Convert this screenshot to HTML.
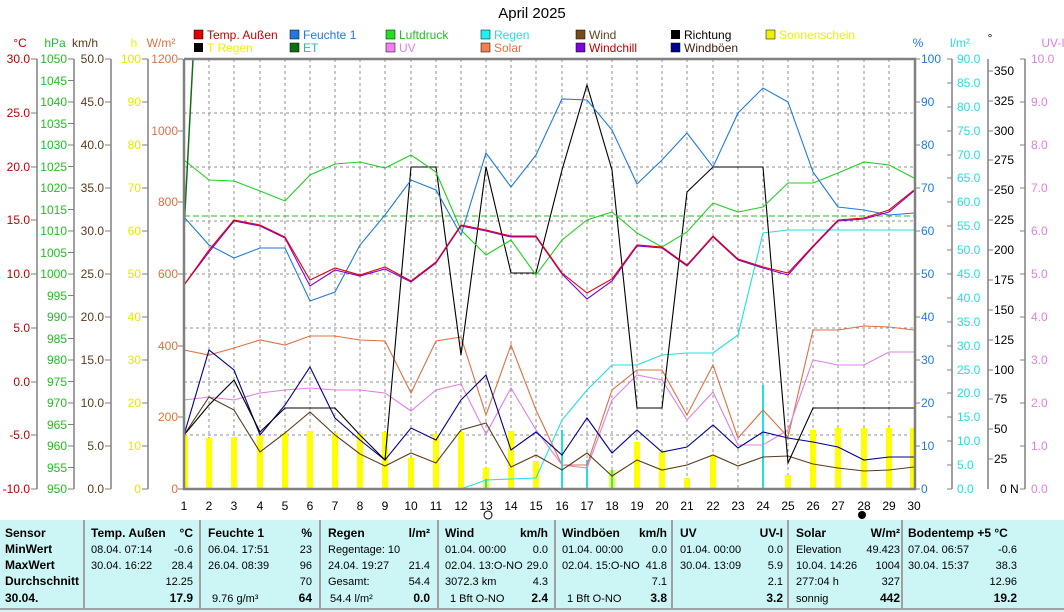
<!DOCTYPE html>
<html><head><meta charset="utf-8"><style>
html,body{margin:0;padding:0;background:#fff;}
svg{display:block;font-family:"Liberation Sans",sans-serif;}
</style></head><body>
<svg width="1064" height="612" viewBox="0 0 1064 612" xmlns="http://www.w3.org/2000/svg">
<rect width="1064" height="612" fill="#fff"/>
<text x="532" y="18" font-size="15" text-anchor="middle">April 2025</text>

<g font-size="12">
<rect x="194" y="30" width="9" height="9" fill="#e00000" stroke="#000" stroke-width="0.5"/><text x="207" y="39" fill="#c00000">Temp. Außen</text>
<rect x="290" y="30" width="9" height="9" fill="#1e7ae0" stroke="#000" stroke-width="0.5"/><text x="303" y="39" fill="#1e7ae0">Feuchte 1</text>
<rect x="386" y="30" width="9" height="9" fill="#20e020" stroke="#000" stroke-width="0.5"/><text x="399" y="39" fill="#20c020">Luftdruck</text>
<rect x="481" y="30" width="9" height="9" fill="#20f0f0" stroke="#000" stroke-width="0.5"/><text x="494" y="39" fill="#20e0e0">Regen</text>
<rect x="576" y="30" width="9" height="9" fill="#7a4a1a" stroke="#000" stroke-width="0.5"/><text x="589" y="39" fill="#6a4020">Wind</text>
<rect x="671" y="30" width="9" height="9" fill="#000"/><text x="684" y="39" fill="#000">Richtung</text>
<rect x="766" y="30" width="9" height="9" fill="#f0f000" stroke="#000" stroke-width="0.5"/><text x="779" y="39" fill="#f0f000">Sonnenschein</text>
<rect x="194" y="43" width="9" height="9" fill="#000"/><text x="207" y="52" fill="#f0f000">T Regen</text>
<rect x="290" y="43" width="9" height="9" fill="#107010" stroke="#000" stroke-width="0.5"/><text x="303" y="52" fill="#20c0a0">ET</text>
<rect x="386" y="43" width="9" height="9" fill="#f080f0" stroke="#000" stroke-width="0.5"/><text x="399" y="52" fill="#e080e0">UV</text>
<rect x="481" y="43" width="9" height="9" fill="#f08050" stroke="#000" stroke-width="0.5"/><text x="494" y="52" fill="#e07040">Solar</text>
<rect x="576" y="43" width="9" height="9" fill="#8000e0" stroke="#000" stroke-width="0.5"/><text x="589" y="52" fill="#c00000">Windchill</text>
<rect x="671" y="43" width="9" height="9" fill="#000090" stroke="#000" stroke-width="0.5"/><text x="684" y="52" fill="#402010">Windböen</text>
</g>

<g font-size="12">
<text x="20" y="47" fill="#c00000" text-anchor="middle">°C</text>
<text x="55" y="47" fill="#20c020" text-anchor="middle">hPa</text>
<text x="85" y="47" fill="#5a3a1a" text-anchor="middle">km/h</text>
<text x="134" y="47" fill="#f0f000" text-anchor="middle">h</text>
<text x="161" y="47" fill="#e07040" text-anchor="middle">W/m²</text>
<text x="918" y="47" fill="#1e7ae0" text-anchor="middle">%</text>
<text x="960" y="47" fill="#20e0e0" text-anchor="middle">l/m²</text>
<text x="990" y="42" fill="#000" text-anchor="middle">°</text>
<text x="1053" y="47" fill="#e080e0" text-anchor="middle">UV-I</text>
</g>

<g stroke="#808080" stroke-width="1.5">
<line x1="37" y1="59" x2="37" y2="489"/>
<line x1="74" y1="59" x2="74" y2="489"/>
<line x1="111" y1="59" x2="111" y2="489"/>
<line x1="148" y1="59" x2="148" y2="489"/>
<line x1="952" y1="59" x2="952" y2="489"/>
<line x1="988" y1="59" x2="988" y2="489"/>
<line x1="1025" y1="59" x2="1025" y2="489"/>
</g>

<g font-size="12" fill="#c00000" text-anchor="end">
<text x="30" y="63">30.0</text><text x="30" y="117">25.0</text><text x="30" y="171">20.0</text><text x="30" y="224">15.0</text><text x="30" y="278">10.0</text><text x="30" y="332">5.0</text><text x="30" y="386">0.0</text><text x="30" y="439">-5.0</text><text x="30" y="493">-10.0</text>
</g>
<g stroke="#808080"><path d="M31 59h6M31 113h6M31 167h6M31 220h6M31 274h6M31 328h6M31 382h6M31 435h6M31 489h6"/></g>
<g font-size="12" fill="#20c020" text-anchor="end">
<text x="67" y="63">1050</text><text x="67" y="85">1045</text><text x="67" y="106">1040</text><text x="67" y="128">1035</text><text x="67" y="149">1030</text><text x="67" y="171">1025</text><text x="67" y="192">1020</text><text x="67" y="214">1015</text><text x="67" y="235">1010</text><text x="67" y="257">1005</text><text x="67" y="278">1000</text><text x="67" y="300">995</text><text x="67" y="321">990</text><text x="67" y="343">985</text><text x="67" y="364">980</text><text x="67" y="386">975</text><text x="67" y="407">970</text><text x="67" y="429">965</text><text x="67" y="450">960</text><text x="67" y="472">955</text><text x="67" y="493">950</text>
</g>
<g stroke="#808080"><path d="M68 59h6M68 80.5h6M68 102h6M68 123.5h6M68 145h6M68 166.5h6M68 188h6M68 209.5h6M68 231h6M68 252.5h6M68 274h6M68 295.5h6M68 317h6M68 338.5h6M68 360h6M68 381.5h6M68 403h6M68 424.5h6M68 446h6M68 467.5h6M68 489h6"/></g>
<g font-size="12" fill="#5a3a1a" text-anchor="end">
<text x="104" y="63">50.0</text><text x="104" y="106">45.0</text><text x="104" y="149">40.0</text><text x="104" y="192">35.0</text><text x="104" y="235">30.0</text><text x="104" y="278">25.0</text><text x="104" y="321">20.0</text><text x="104" y="364">15.0</text><text x="104" y="407">10.0</text><text x="104" y="450">5.0</text><text x="104" y="493">0.0</text>
</g>
<g stroke="#808080"><path d="M105 59h6M105 102h6M105 145h6M105 188h6M105 231h6M105 274h6M105 317h6M105 360h6M105 403h6M105 446h6M105 489h6"/></g>
<g font-size="12" fill="#e8e800" text-anchor="end">
<text x="141" y="63">100</text><text x="141" y="106">90</text><text x="141" y="149">80</text><text x="141" y="192">70</text><text x="141" y="235">60</text><text x="141" y="278">50</text><text x="141" y="321">40</text><text x="141" y="364">30</text><text x="141" y="407">20</text><text x="141" y="450">10</text><text x="141" y="493">0</text>
</g>
<g stroke="#808080"><path d="M142 59h6M142 102h6M142 145h6M142 188h6M142 231h6M142 274h6M142 317h6M142 360h6M142 403h6M142 446h6M142 489h6"/></g>
<g font-size="12" fill="#e07040" text-anchor="end">
<text x="178" y="63">1200</text><text x="178" y="135">1000</text><text x="178" y="206">800</text><text x="178" y="278">600</text><text x="178" y="350">400</text><text x="178" y="421">200</text><text x="178" y="493">0</text>
</g>
<g stroke="#808080"><path d="M178 59h5M178 131h5M178 202h5M178 274h5M178 346h5M178 417h5M178 489h5"/></g>
<g font-size="12" fill="#1e7ae0">
<text x="921" y="63">100</text><text x="921" y="106">90</text><text x="921" y="149">80</text><text x="921" y="192">70</text><text x="921" y="235">60</text><text x="921" y="278">50</text><text x="921" y="321">40</text><text x="921" y="364">30</text><text x="921" y="407">20</text><text x="921" y="450">10</text><text x="921" y="493">0</text>
</g>
<g stroke="#808080"><path d="M915 59h5M915 102h5M915 145h5M915 188h5M915 231h5M915 274h5M915 317h5M915 360h5M915 403h5M915 446h5M915 489h5"/></g>
<g font-size="12" fill="#20e0e0">
<text x="957" y="63">90.0</text><text x="957" y="87">85.0</text><text x="957" y="111">80.0</text><text x="957" y="135">75.0</text><text x="957" y="159">70.0</text><text x="957" y="182">65.0</text><text x="957" y="206">60.0</text><text x="957" y="230">55.0</text><text x="957" y="254">50.0</text><text x="957" y="278">45.0</text><text x="957" y="302">40.0</text><text x="957" y="326">35.0</text><text x="957" y="350">30.0</text><text x="957" y="374">25.0</text><text x="957" y="397">20.0</text><text x="957" y="421">15.0</text><text x="957" y="445">10.0</text><text x="957" y="469">5.0</text><text x="957" y="493">0.0</text>
</g>
<g stroke="#808080"><path d="M947 59h5M947 83h5M947 107h5M947 131h5M947 155h5M947 178h5M947 202h5M947 226h5M947 250h5M947 274h5M947 298h5M947 322h5M947 346h5M947 370h5M947 393h5M947 417h5M947 441h5M947 465h5M947 489h5"/></g>
<g font-size="12" fill="#000">
<text x="994" y="75">350</text><text x="994" y="105">325</text><text x="994" y="135">300</text><text x="994" y="164">275</text><text x="994" y="194">250</text><text x="994" y="224">225</text><text x="994" y="254">200</text><text x="994" y="284">175</text><text x="994" y="314">150</text><text x="994" y="344">125</text><text x="994" y="374">100</text><text x="994" y="403">75</text><text x="994" y="433">50</text><text x="994" y="463">25</text><text x="1000" y="493">0 N</text>
</g>
<g stroke="#808080"><path d="M988 71h5M988 101h5M988 131h5M988 160h5M988 190h5M988 220h5M988 250h5M988 280h5M988 310h5M988 340h5M988 370h5M988 399h5M988 429h5M988 459h5"/></g>
<g font-size="12" fill="#e080e0">
<text x="1031" y="63">10.0</text><text x="1031" y="106">9.0</text><text x="1031" y="149">8.0</text><text x="1031" y="192">7.0</text><text x="1031" y="235">6.0</text><text x="1031" y="278">5.0</text><text x="1031" y="321">4.0</text><text x="1031" y="364">3.0</text><text x="1031" y="407">2.0</text><text x="1031" y="450">1.0</text><text x="1031" y="493">0.0</text>
</g>
<g stroke="#808080"><path d="M1020 59h5M1020 102h5M1020 145h5M1020 188h5M1020 231h5M1020 274h5M1020 317h5M1020 360h5M1020 403h5M1020 446h5M1020 489h5"/></g>

<g stroke="#909090" stroke-width="1" stroke-dasharray="3,3">
<path d="M184 113H914M184 167H914M184 221H914M184 274H914M184 328H914M184 382H914M184 435H914"/>
<path d="M209 59V489M234 59V489M260 59V489M285 59V489M310 59V489M335 59V489M360 59V489M385 59V489M411 59V489M436 59V489M461 59V489M486 59V489M511 59V489M536 59V489M562 59V489M587 59V489M612 59V489M637 59V489M662 59V489M687 59V489M713 59V489M738 59V489M763 59V489M788 59V489M813 59V489M838 59V489M864 59V489M889 59V489"/>
</g>

<g fill="#ffff00">
<rect x="183" y="436" width="5" height="53"/><rect x="206" y="438" width="6" height="51"/><rect x="231" y="437" width="6" height="52"/><rect x="257" y="435" width="6" height="54"/><rect x="282" y="433" width="6" height="56"/><rect x="307" y="431" width="6" height="58"/><rect x="332" y="433" width="6" height="56"/><rect x="357" y="433" width="6" height="56"/><rect x="382" y="432" width="6" height="57"/><rect x="408" y="458" width="6" height="31"/><rect x="433" y="434" width="6" height="55"/><rect x="458" y="432" width="6" height="57"/><rect x="483" y="468" width="6" height="21"/><rect x="508" y="431" width="6" height="58"/><rect x="533" y="461" width="6" height="28"/><rect x="609" y="470" width="6" height="19"/><rect x="634" y="442" width="6" height="47"/><rect x="659" y="452" width="6" height="37"/><rect x="684" y="478" width="6" height="11"/><rect x="710" y="455" width="6" height="34"/><rect x="785" y="475" width="6" height="14"/><rect x="810" y="430" width="6" height="59"/><rect x="835" y="428" width="6" height="61"/><rect x="861" y="428" width="6" height="61"/><rect x="886" y="428" width="6" height="61"/><rect x="910" y="428" width="5" height="61"/>
</g>
<g stroke="#20e0e0" stroke-width="2">
<path d="M486 489V479M562 489V430M587 489V460M763 489V385M612 489V470"/>
</g>

<g fill="none" stroke-width="1.1">
<polyline stroke="#e07040" points="184,350 209,355 234,348 260,340 285,345 310,336 335,336 360,340 385,341 411,393 436,341 461,337 486,415 511,345 536,410 562,465 587,465 612,390 637,370 662,370 687,415 713,365 738,438 763,410 788,437 813,330 838,330 864,326 889,327 914,330"/>
<polyline stroke="#e080e0" points="184,400 209,397 234,400 260,393 285,390 310,388 335,390 360,390 385,393 411,411 436,390 461,384 486,434 511,388 536,430 562,465 587,468 612,400 637,375 662,380 687,420 713,392 738,445 763,445 788,430 813,360 838,365 864,365 889,352 914,352"/>
<polyline stroke="#20e0e0" points="184,489 461,489 486,480 536,478 562,420 587,390 612,365 637,365 662,355 687,353 713,353 738,335 763,233 788,230 914,230"/>
<polyline stroke="#000090" points="184,435 209,350 234,370 260,435 285,405 310,367 335,418 360,440 385,460 411,428 436,440 461,400 486,375 511,450 536,432 562,455 587,418 612,453 637,430 662,452 687,447 713,425 738,448 763,432 788,438 813,442 838,447 864,460 889,457 914,457"/>
<polyline stroke="#5a3a1a" points="184,435 209,397 234,410 260,452 285,433 310,412 335,435 360,454 385,466 411,453 436,463 461,430 486,423 511,467 536,455 562,470 587,453 612,476 637,460 662,470 687,465 713,455 738,466 763,457 788,456 813,464 838,468 864,471 889,470 914,467"/>
<polyline stroke="#000" points="184,435 209,405 234,380 260,432 285,408 335,408 360,435 385,460 411,167 436,167 461,355 486,167 511,273 536,273 562,170 587,85 612,170 637,408 662,408 687,192 713,167 763,167 788,463 813,408 914,408"/>
<polyline stroke="#20d020" points="184,160 209,180 234,181 260,191 285,201 310,175 335,164 360,162 385,168 411,155 436,172 461,230 486,255 511,240 536,275 562,240 587,220 612,212 637,233 662,247 687,232 713,203 738,212 763,207 788,183 813,183 838,173 864,162 889,165 914,178"/>
<line x1="184" y1="216" x2="914" y2="216" stroke="#20c020" stroke-dasharray="6,3"/>
<polyline stroke="#107010" stroke-width="1.5" points="184,230 193,59"/>
<polyline stroke="#1e7ae0" points="184,217 209,245 234,258 260,248 285,248 310,301 335,292 360,245 385,215 411,180 436,190 461,235 486,153 511,187 536,155 562,99 587,100 612,130 637,184 662,160 687,133 713,167 738,113 763,88 788,102 813,172 838,207 864,210 889,215 914,213"/>
<polyline stroke="#8000e0" points="184,285 209,252 234,221 260,226 285,238 310,286 335,270 360,276 385,269 411,282 436,263 461,226 486,231 511,237 536,237 562,274 587,299 612,281 637,246 662,248 687,266 713,237 738,260 763,268 788,275 813,247 838,221 864,219 889,212 914,191"/>
<polyline stroke="#e00000" points="184,285 209,250 234,220 260,225 285,237 310,280 335,268 360,275 385,267 411,281 436,262 461,225 486,230 511,236 536,236 562,273 587,293 612,279 637,245 662,247 687,265 713,236 738,259 763,267 788,273 813,246 838,220 864,218 889,210 914,190"/>
</g>

<path d="M184 59V489H915V59H184" fill="none" stroke="#808080" stroke-width="2.5"/>

<g font-size="12" text-anchor="middle" fill="#000">
<text x="184" y="510">1</text><text x="209" y="510">2</text><text x="234" y="510">3</text><text x="260" y="510">4</text><text x="285" y="510">5</text><text x="310" y="510">6</text><text x="335" y="510">7</text><text x="360" y="510">8</text><text x="385" y="510">9</text><text x="411" y="510">10</text><text x="436" y="510">11</text><text x="461" y="510">12</text><text x="486" y="510">13</text><text x="511" y="510">14</text><text x="536" y="510">15</text><text x="562" y="510">16</text><text x="587" y="510">17</text><text x="612" y="510">18</text><text x="637" y="510">19</text><text x="662" y="510">20</text><text x="687" y="510">21</text><text x="713" y="510">22</text><text x="738" y="510">23</text><text x="763" y="510">24</text><text x="788" y="510">25</text><text x="813" y="510">26</text><text x="838" y="510">27</text><text x="864" y="510">28</text><text x="889" y="510">29</text><text x="914" y="510">30</text>
</g>
<circle cx="488" cy="515" r="4" fill="none" stroke="#000"/>
<circle cx="862" cy="515" r="4" fill="#000"/>

<rect x="0" y="520" width="1064" height="92" fill="#ccf6f6"/>
<line x1="0" y1="609" x2="1064" y2="609" stroke="#a0a0a0" stroke-width="2"/>
<g stroke="#a0a0a0" stroke-width="2">
<path d="M84 520V609M200 520V609M320 520V609M438 520V609M555 520V609M672 520V609M788 520V609M902 520V609"/>
</g>
<g font-size="12" font-weight="bold" fill="#000">
<text x="5" y="537">Sensor</text><text x="5" y="553">MinWert</text><text x="5" y="569">MaxWert</text><text x="5" y="585">Durchschnitt</text><text x="5" y="602">30.04.</text>
<text x="91" y="537">Temp. Außen</text><text x="193" y="537" text-anchor="end">°C</text>
<text x="208" y="537">Feuchte 1</text><text x="312" y="537" text-anchor="end">%</text>
<text x="328" y="537">Regen</text><text x="430" y="537" text-anchor="end">l/m²</text>
<text x="445" y="537">Wind</text><text x="548" y="537" text-anchor="end">km/h</text>
<text x="562" y="537">Windböen</text><text x="667" y="537" text-anchor="end">km/h</text>
<text x="680" y="537">UV</text><text x="783" y="537" text-anchor="end">UV-I</text>
<text x="796" y="537">Solar</text><text x="900" y="537" text-anchor="end">W/m²</text>
<text x="908" y="537">Bodentemp +5  °C</text>
<text x="193" y="602" text-anchor="end">17.9</text><text x="312" y="602" text-anchor="end">64</text><text x="430" y="602" text-anchor="end">0.0</text><text x="548" y="602" text-anchor="end">2.4</text><text x="667" y="602" text-anchor="end">3.8</text><text x="783" y="602" text-anchor="end">3.2</text><text x="900" y="602" text-anchor="end">442</text><text x="1017" y="602" text-anchor="end">19.2</text>
</g>
<g font-size="11" fill="#000">
<text x="91" y="553">08.04.  07:14</text><text x="193" y="553" text-anchor="end">-0.6</text>
<text x="91" y="569">30.04.  16:22</text><text x="193" y="569" text-anchor="end">28.4</text>
<text x="193" y="585" text-anchor="end">12.25</text>
<text x="208" y="553">06.04.  17:51</text><text x="312" y="553" text-anchor="end">23</text>
<text x="208" y="569">26.04.  08:39</text><text x="312" y="569" text-anchor="end">96</text>
<text x="312" y="585" text-anchor="end">70</text>
<text x="212" y="602">9.76 g/m³</text>
<text x="328" y="553">Regentage: 10</text>
<text x="328" y="569">24.04.  19:27</text><text x="430" y="569" text-anchor="end">21.4</text>
<text x="328" y="585">Gesamt:</text><text x="430" y="585" text-anchor="end">54.4</text>
<text x="330" y="602">54.4 l/m²</text>
<text x="445" y="553">01.04.  00:00</text><text x="548" y="553" text-anchor="end">0.0</text>
<text x="445" y="569">02.04. 13:O-NO</text><text x="548" y="569" text-anchor="end">29.0</text>
<text x="445" y="585">3072.3 km</text><text x="548" y="585" text-anchor="end">4.3</text>
<text x="450" y="602">1 Bft O-NO</text>
<text x="562" y="553">01.04.  00:00</text><text x="667" y="553" text-anchor="end">0.0</text>
<text x="562" y="569">02.04. 15:O-NO</text><text x="667" y="569" text-anchor="end">41.8</text>
<text x="667" y="585" text-anchor="end">7.1</text>
<text x="567" y="602">1 Bft O-NO</text>
<text x="680" y="553">01.04.  00:00</text><text x="783" y="553" text-anchor="end">0.0</text>
<text x="680" y="569">30.04.  13:09</text><text x="783" y="569" text-anchor="end">5.9</text>
<text x="783" y="585" text-anchor="end">2.1</text>
<text x="796" y="553">Elevation</text><text x="900" y="553" text-anchor="end">49.423</text>
<text x="796" y="569">10.04.  14:26</text><text x="900" y="569" text-anchor="end">1004</text>
<text x="796" y="585">277:04 h</text><text x="900" y="585" text-anchor="end">327</text>
<text x="796" y="602">sonnig</text>
<text x="908" y="553">07.04.  06:57</text><text x="1017" y="553" text-anchor="end">-0.6</text>
<text x="908" y="569">30.04.  15:37</text><text x="1017" y="569" text-anchor="end">38.3</text>
<text x="1017" y="585" text-anchor="end">12.96</text>
</g>
</svg>
</body></html>
